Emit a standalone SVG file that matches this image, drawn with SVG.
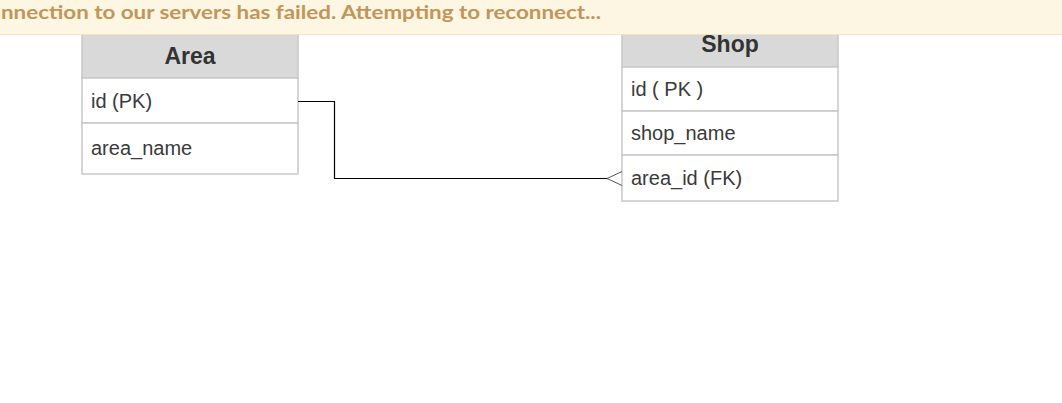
<svg xmlns="http://www.w3.org/2000/svg" width="1062" height="403" viewBox="0 0 1062 403">
<style>
.hdr{fill:#d9d9d9;stroke:#c8c8c8;stroke-width:1.5}
.row{fill:#ffffff;stroke:#c8c8c8;stroke-width:1.5}
.title{font-family:"Liberation Sans",Arial,sans-serif;font-size:23px;font-weight:bold;fill:#333333;text-anchor:middle}
.field{font-family:"Liberation Sans",Arial,sans-serif;font-size:20px;fill:#3a3a3a}
.conn{fill:none;stroke:#000000;stroke-width:1.2}
.crow{fill:none;stroke:#555555;stroke-width:1}
</style>
<rect x="0" y="0" width="1062" height="403" fill="#ffffff"/>
<g id="area">
<rect class="hdr" x="82" y="20" width="216" height="58"/>
<rect class="row" x="82" y="78" width="216" height="45"/>
<rect class="row" x="82" y="123" width="216" height="51"/>
<text class="title" x="190" y="64">Area</text>
<text class="field" x="91" y="108">id (PK)</text>
<text class="field" x="91" y="155">area_name</text>
</g>
<g id="shop">
<rect class="hdr" x="622" y="10" width="216" height="57"/>
<rect class="row" x="622" y="67" width="216" height="44"/>
<rect class="row" x="622" y="111" width="216" height="44"/>
<rect class="row" x="622" y="155" width="216" height="46"/>
<text class="title" x="730" y="52">Shop</text>
<text class="field" x="631" y="96">id ( PK )</text>
<text class="field" x="631" y="140">shop_name</text>
<text class="field" x="631" y="185">area_id (FK)</text>
</g>
<g id="connectors">
<path class="conn" d="M298,101.5 H334.5 V178.5 H608"/>
<path class="crow" d="M622,171.5 L607,178.5 L622,185.5"/>
</g>
<g id="banner">
<rect x="0" y="0" width="1062" height="34" fill="#fdf6e2"/>
<line x1="0" y1="34.5" x2="1062" y2="34.5" stroke="#f3e3c0" stroke-width="1"/>
<text x="1" y="18.5" font-family="Lato,'Open Sans',sans-serif" font-size="18.5" font-weight="bold" fill="#c2955a" textLength="600" lengthAdjust="spacingAndGlyphs">nnection to our servers has failed. Attempting to reconnect...</text>
</g>
</svg>
